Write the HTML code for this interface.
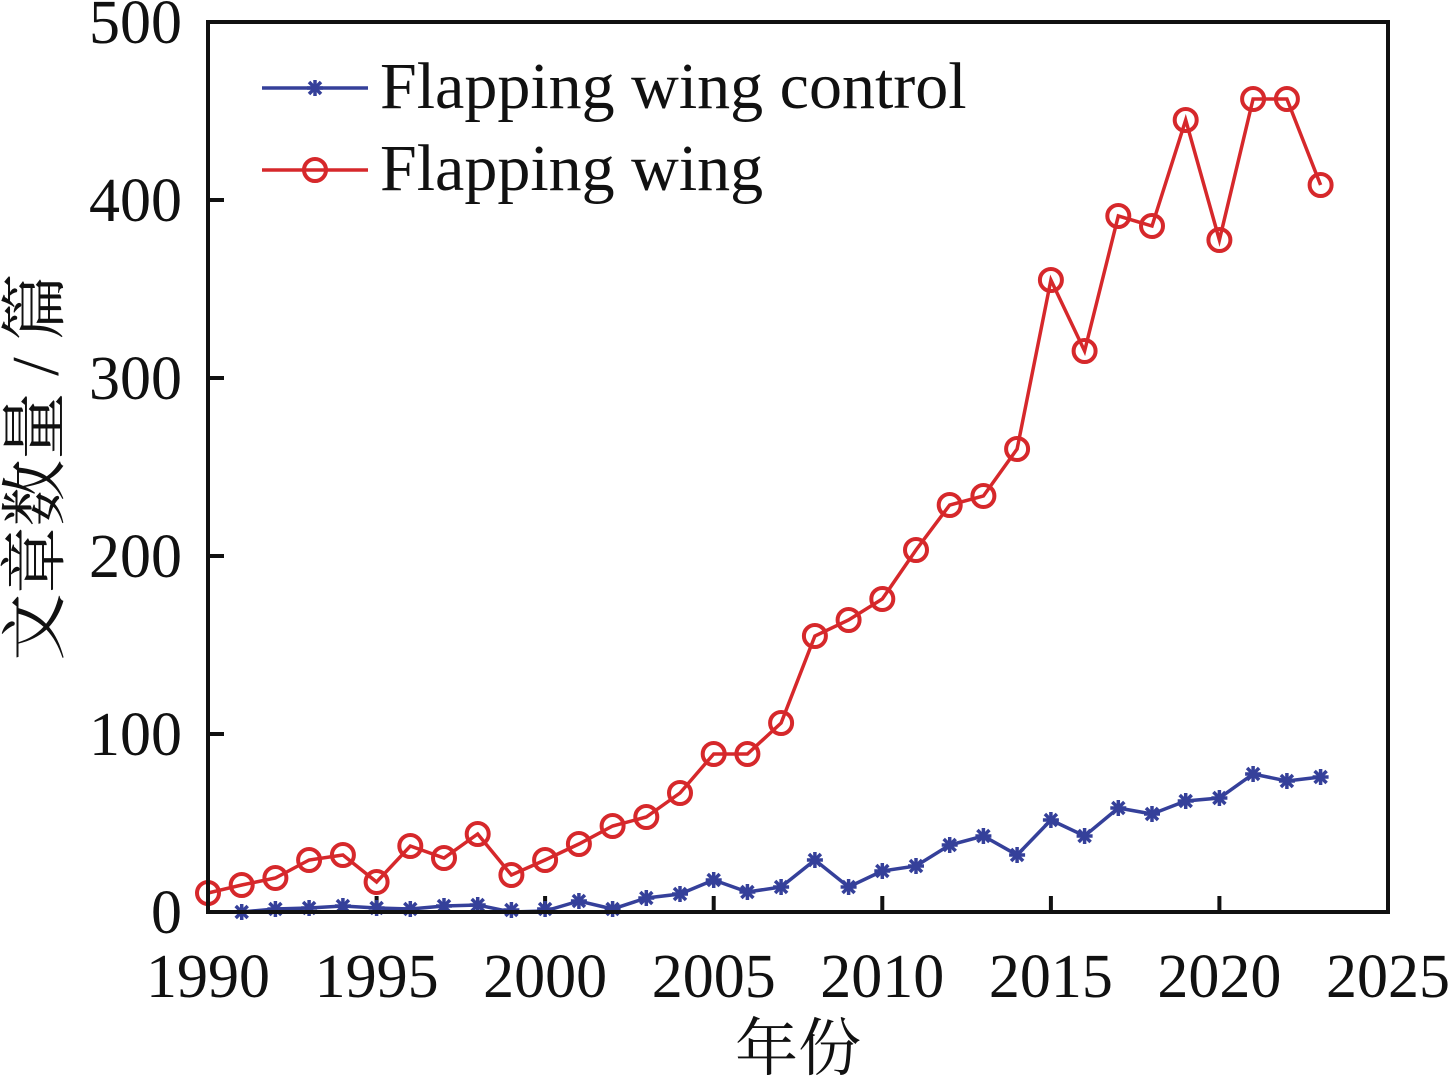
<!DOCTYPE html>
<html><head><meta charset="utf-8"><style>
html,body{margin:0;padding:0;background:#fff;}
svg{display:block;}
text{font-family:"Liberation Serif","Noto Serif CJK SC",serif;fill:#111;}
</style></head><body>
<svg width="1453" height="1079" viewBox="0 0 1453 1079" xmlns="http://www.w3.org/2000/svg">
<defs>
<g id="c"><circle r="11" fill="none" stroke="#d6282b" stroke-width="4"/></g>
<g id="s" stroke="#35409a" stroke-width="3.5"><line x1="-8" y1="0" x2="8" y2="0"/><line x1="0" y1="-8" x2="0" y2="8"/><line x1="-6" y1="-6" x2="6" y2="6"/><line x1="-6" y1="6" x2="6" y2="-6"/></g>
</defs>
<g stroke="#111" stroke-width="4">
<line x1="208" y1="734" x2="224" y2="734"/><line x1="208" y1="556" x2="224" y2="556"/><line x1="208" y1="378" x2="224" y2="378"/><line x1="208" y1="200" x2="224" y2="200"/>
<line x1="376.6" y1="912" x2="376.6" y2="896"/><line x1="545.1" y1="912" x2="545.1" y2="896"/><line x1="713.7" y1="912" x2="713.7" y2="896"/><line x1="882.3" y1="912" x2="882.3" y2="896"/><line x1="1050.9" y1="912" x2="1050.9" y2="896"/><line x1="1219.4" y1="912" x2="1219.4" y2="896"/>
</g>
<polyline fill="none" stroke="#35409a" stroke-width="3.5" points="208,912 241.7,912 275.4,909 309.1,908 342.9,906 376.6,908 410.3,909 444,906 477.7,905 511.4,912 545.1,911 578.9,901 612.6,909 646.3,898 680,894 713.7,880 747.4,892 781.1,887 814.9,860 848.6,887 882.3,871 916,866 949.7,845 983.4,836 1017.1,855 1050.9,820 1084.6,836 1118.3,808 1152,814 1185.7,801 1219.4,798 1253.1,774 1286.9,781 1320.6,777"/>
<g>
<use href="#s" x="241.7" y="912"/><use href="#s" x="275.4" y="909"/><use href="#s" x="309.1" y="908"/><use href="#s" x="342.9" y="906"/><use href="#s" x="376.6" y="908"/><use href="#s" x="410.3" y="909"/><use href="#s" x="444" y="906"/><use href="#s" x="477.7" y="905"/><use href="#s" x="511.4" y="910"/><use href="#s" x="545.1" y="909"/><use href="#s" x="578.9" y="901"/><use href="#s" x="612.6" y="909"/><use href="#s" x="646.3" y="898"/><use href="#s" x="680" y="894"/><use href="#s" x="713.7" y="880"/><use href="#s" x="747.4" y="892"/><use href="#s" x="781.1" y="887"/><use href="#s" x="814.9" y="860"/><use href="#s" x="848.6" y="887"/><use href="#s" x="882.3" y="871"/><use href="#s" x="916" y="866"/><use href="#s" x="949.7" y="845"/><use href="#s" x="983.4" y="836"/><use href="#s" x="1017.1" y="855"/><use href="#s" x="1050.9" y="820"/><use href="#s" x="1084.6" y="836"/><use href="#s" x="1118.3" y="808"/><use href="#s" x="1152" y="814"/><use href="#s" x="1185.7" y="801"/><use href="#s" x="1219.4" y="798"/><use href="#s" x="1253.1" y="774"/><use href="#s" x="1286.9" y="781"/><use href="#s" x="1320.6" y="777"/>
</g>
<polyline fill="none" stroke="#d6282b" stroke-width="3.5" points="208,893 241.7,885 275.4,878 309.1,860 342.9,855 376.6,882 410.3,846 444,858 477.7,834 511.4,875 545.1,860 578.9,844 612.6,826 646.3,817 680,793 713.7,754 747.4,754 781.1,723 814.9,636 848.6,620 882.3,599 916,550 949.7,505 983.4,496 1017.1,449 1050.9,280 1084.6,351 1118.3,216 1152,226 1185.7,120 1219.4,240 1253.1,99 1286.9,99 1320.6,185"/>
<g>
<use href="#c" x="208" y="893"/><use href="#c" x="241.7" y="885"/><use href="#c" x="275.4" y="878"/><use href="#c" x="309.1" y="860"/><use href="#c" x="342.9" y="855"/><use href="#c" x="376.6" y="882"/><use href="#c" x="410.3" y="846"/><use href="#c" x="444" y="858"/><use href="#c" x="477.7" y="834"/><use href="#c" x="511.4" y="875"/><use href="#c" x="545.1" y="860"/><use href="#c" x="578.9" y="844"/><use href="#c" x="612.6" y="826"/><use href="#c" x="646.3" y="817"/><use href="#c" x="680" y="793"/><use href="#c" x="713.7" y="754"/><use href="#c" x="747.4" y="754"/><use href="#c" x="781.1" y="723"/><use href="#c" x="814.9" y="636"/><use href="#c" x="848.6" y="620"/><use href="#c" x="882.3" y="599"/><use href="#c" x="916" y="550"/><use href="#c" x="949.7" y="505"/><use href="#c" x="983.4" y="496"/><use href="#c" x="1017.1" y="449"/><use href="#c" x="1050.9" y="280"/><use href="#c" x="1084.6" y="351"/><use href="#c" x="1118.3" y="216"/><use href="#c" x="1152" y="226"/><use href="#c" x="1185.7" y="120"/><use href="#c" x="1219.4" y="240"/><use href="#c" x="1253.1" y="99"/><use href="#c" x="1286.9" y="99"/><use href="#c" x="1320.6" y="185"/>
</g>
<rect x="208" y="22" width="1180" height="890" fill="none" stroke="#111" stroke-width="4"/>
<line x1="262" y1="88" x2="368" y2="88" stroke="#35409a" stroke-width="3.5"/><use href="#s" x="315" y="88"/>
<line x1="262" y1="170" x2="368" y2="170" stroke="#d6282b" stroke-width="3.5"/><use href="#c" x="315" y="170"/>
<text x="380" y="108" font-size="66">Flapping wing control</text>
<text x="380" y="190" font-size="66">Flapping wing</text>
<g font-size="62" text-anchor="end">
<text x="182" y="43">500</text><text x="182" y="221">400</text><text x="182" y="399">300</text><text x="182" y="577">200</text><text x="182" y="755">100</text><text x="182" y="933">0</text>
</g>
<g font-size="62" text-anchor="middle">
<text x="208" y="997">1990</text><text x="376.6" y="997">1995</text><text x="545.1" y="997">2000</text><text x="713.7" y="997">2005</text><text x="882.3" y="997">2010</text><text x="1050.9" y="997">2015</text><text x="1219.4" y="997">2020</text><text x="1388" y="997">2025</text>
</g>
<text x="798" y="1070" font-size="63" text-anchor="middle">年份</text>
<text transform="translate(58,467) rotate(-90)" font-size="67" text-anchor="middle">文章数量 / 篇</text>
</svg>
</body></html>
